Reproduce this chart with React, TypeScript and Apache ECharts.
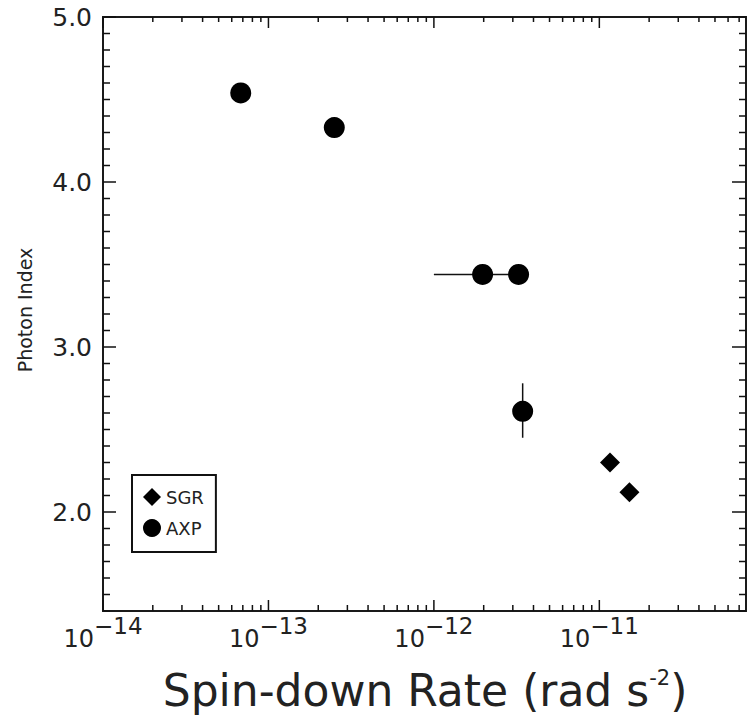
import React, { useEffect, useRef } from "react";
import * as echarts from "echarts";

// ---- data ----
const axpRate = [6.8e-14, 2.5e-13, 1.97e-12, 3.25e-12, 3.44e-12];
const axpIndex = [4.54, 4.33, 3.44, 3.44, 2.61];
const axpRateLo: (number | null)[] = [null, null, 1.0e-12, null, null];
const axpRateHi: (number | null)[] = [null, null, 3.25e-12, null, null];
const axpIndexLo: (number | null)[] = [null, null, null, null, 2.45];
const axpIndexHi: (number | null)[] = [null, null, null, null, 2.78];

const sgrRate = [1.16e-11, 1.52e-11];
const sgrIndex = [2.3, 2.12];

const X_MIN = 1e-14;
const X_MAX = 7.7e-11;
const Y_MIN = 1.4;
const Y_MAX = 5.0;
const decadeExps = [-14, -13, -12, -11];
const minorMultipliers = [2, 3, 4, 5, 6, 7, 8, 9];

const FONT = "DejaVu Sans";
const TXT = "#222";

export default function App() {
  const ref = useRef<HTMLDivElement>(null);

  useEffect(() => {
    document.body.style.margin = "0";
    if (!ref.current) return;
    const chart = echarts.init(ref.current, undefined, { renderer: "svg" });

    const xTickData: number[][] = [];
    decadeExps.forEach((e) => {
      const base = Math.pow(10, e);
      xTickData.push([base, Y_MIN, 1]);
      minorMultipliers.forEach((m) => {
        const v = m * base;
        if (v <= X_MAX) xTickData.push([v, Y_MIN, 0]);
      });
    });
    const yTickData: number[][] = [];
    for (let k = Math.round(Y_MIN * 10); k <= Math.round(Y_MAX * 10); k++) {
      yTickData.push([X_MIN, k / 10, k % 10 === 0 ? 1 : 0]);
    }

    const errData: number[][] = [];
    axpRate.forEach((x, i) => {
      const y = axpIndex[i];
      if (axpRateLo[i] != null || axpIndexLo[i] != null) {
        errData.push([
          x,
          y,
          axpRateLo[i] ?? x,
          axpRateHi[i] ?? x,
          axpIndexLo[i] ?? y,
          axpIndexHi[i] ?? y,
        ]);
      }
    });

    const lineStyle = { stroke: "#111", lineWidth: 1.5 };

    const option: any = {
      animation: false,
      backgroundColor: "#fff",
      grid: {
        left: 103,
        top: 17,
        right: 1,
        bottom: 105,
        show: true,
        borderColor: "#1a1a1a",
        borderWidth: 2,
        backgroundColor: "transparent",
      },
      xAxis: {
        type: "log",
        logBase: 10,
        min: X_MIN,
        max: X_MAX,
        axisLine: { show: false },
        axisTick: { show: false },
        splitLine: { show: false },
        minorTick: { show: false },
        axisLabel: {
          margin: 16,
          formatter: (v: number) => {
            const e = Math.log10(v);
            if (Math.abs(e - Math.round(e)) > 1e-6) return "";
            return `{b|10}{s|\u2212${-Math.round(e)}}`;
          },
          rich: {
            b: { fontSize: 24, lineHeight: 24, fontFamily: FONT, color: TXT, verticalAlign: "bottom" },
            s: {
              fontSize: 23,
              lineHeight: 24,
              fontFamily: FONT,
              color: TXT,
              verticalAlign: "bottom",
              padding: [0, 0, 14, 0],
            },
          },
        },
      },
      yAxis: {
        type: "value",
        min: Y_MIN,
        max: Y_MAX,
        interval: 0.1,
        axisLine: { show: false },
        axisTick: { show: false },
        splitLine: { show: false },
        axisLabel: {
          margin: 11,
          fontSize: 25,
          fontFamily: FONT,
          color: TXT,
          formatter: (v: number) =>
            Math.abs(v - Math.round(v)) < 1e-6 ? v.toFixed(1) : "",
        },
      },
      legend: {
        orient: "vertical",
        left: 132,
        top: 475,
        data: ["SGR", "AXP"],
        borderColor: "#111",
        borderWidth: 2,
        padding: [13, 12, 15, 11],
        itemGap: 13,
        itemWidth: 18,
        itemHeight: 18,
        textStyle: { fontSize: 18, fontFamily: FONT, color: TXT },
        selectedMode: false,
      },
      graphic: [
        {
          type: "text",
          x: 25,
          y: 310,
          rotation: Math.PI / 2,
          style: {
            text: "Photon Index",
            fontSize: 19,
            fontFamily: FONT,
            fill: TXT,
            textAlign: "center",
            textVerticalAlign: "middle",
          },
        },
        {
          type: "text",
          x: 425,
          y: 687,
          style: {
            text: "{m|Spin-down Rate (rad s}{s|-2}{m|)}",
            textAlign: "center",
            textVerticalAlign: "middle",
            rich: {
              m: { fontSize: 44, lineHeight: 50, fontFamily: FONT, fill: TXT, verticalAlign: "bottom" },
              s: {
                fontSize: 21,
                lineHeight: 22,
                fontFamily: FONT,
                fill: TXT,
                verticalAlign: "bottom",
                padding: [0, 0, 24, 0],
              },
            },
          },
        },
      ],
      series: [
        {
          name: "xticks",
          type: "custom",
          silent: true,
          data: xTickData,
          renderItem: (params: any, api: any) => {
            const cs = params.coordSys;
            const px = api.coord([api.value(0), Y_MIN])[0];
            const major = api.value(2) === 1;
            const lb = major ? 11 : 6;
            const lt = major ? 11 : 5;
            const bottom = cs.y + cs.height;
            return {
              type: "group",
              children: [
                { type: "line", shape: { x1: px, y1: bottom, x2: px, y2: bottom - lb }, style: lineStyle },
                { type: "line", shape: { x1: px, y1: cs.y, x2: px, y2: cs.y + lt }, style: lineStyle },
              ],
            };
          },
        },
        {
          name: "yticks",
          type: "custom",
          silent: true,
          data: yTickData,
          renderItem: (params: any, api: any) => {
            const cs = params.coordSys;
            const py = api.coord([X_MIN, api.value(1)])[1];
            const major = api.value(2) === 1;
            const ll = major ? 13 : 7;
            const lr = major ? 14 : 7;
            const right = cs.x + cs.width;
            return {
              type: "group",
              children: [
                { type: "line", shape: { x1: cs.x, y1: py, x2: cs.x + ll, y2: py }, style: lineStyle },
                { type: "line", shape: { x1: right, y1: py, x2: right - lr, y2: py }, style: lineStyle },
              ],
            };
          },
        },
        {
          name: "errors",
          type: "custom",
          silent: true,
          data: errData,
          renderItem: (params: any, api: any) => {
            const c = api.coord([api.value(0), api.value(1)]);
            const xl = api.coord([api.value(2), api.value(1)])[0];
            const xh = api.coord([api.value(3), api.value(1)])[0];
            const yl = api.coord([api.value(0), api.value(4)])[1];
            const yh = api.coord([api.value(0), api.value(5)])[1];
            return {
              type: "group",
              children: [
                { type: "line", shape: { x1: xl, y1: c[1], x2: xh, y2: c[1] }, style: { stroke: "#111", lineWidth: 1.5 } },
                { type: "line", shape: { x1: c[0], y1: yl, x2: c[0], y2: yh }, style: { stroke: "#111", lineWidth: 1.5 } },
              ],
            };
          },
        },
        {
          name: "SGR",
          type: "scatter",
          symbol: "diamond",
          symbolSize: 20,
          itemStyle: { color: "#000", opacity: 1 },
          data: sgrRate.map((x, i) => [x, sgrIndex[i]]),
          z: 5,
        },
        {
          name: "AXP",
          type: "scatter",
          symbol: "circle",
          symbolSize: 21,
          itemStyle: { color: "#000", opacity: 1 },
          data: axpRate.map((x, i) => [x, axpIndex[i]]),
          z: 5,
        },
      ],
    };

    chart.setOption(option);
    return () => chart.dispose();
  }, []);

  return <div ref={ref} style={{ width: 749, height: 716 }} />;
}
